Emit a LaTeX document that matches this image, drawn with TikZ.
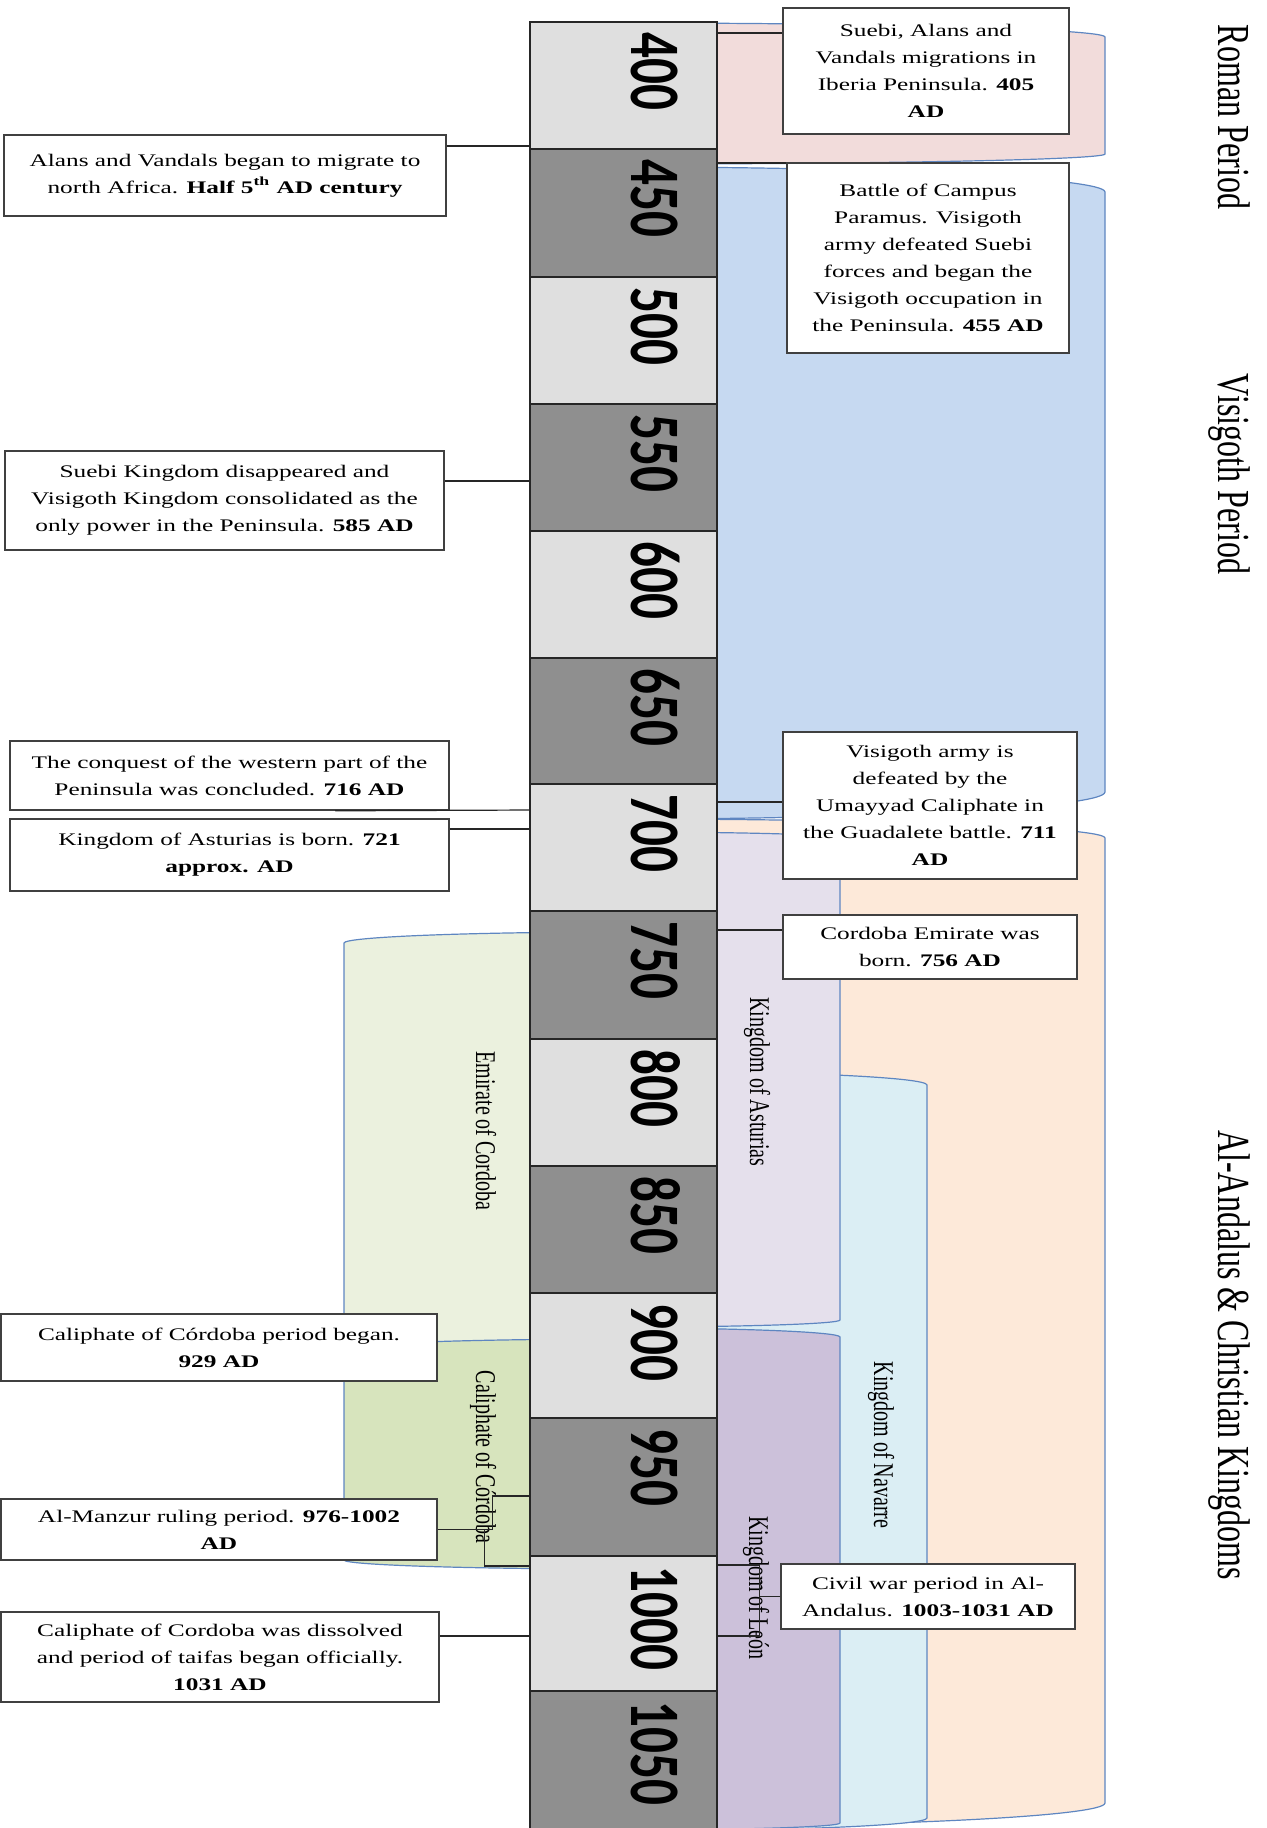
\documentclass[tikz,border=0pt]{standalone}
\usepackage{fontspec}
\setmainfont{Liberation Serif}
\newfontfamily\boxfont[FakeStretch=1.43]{Liberation Serif}
\newfontfamily\bandfont[FakeStretch=0.7]{Liberation Serif}
\newfontfamily\yearfont[FakeStretch=0.72]{Carlito}
\usetikzlibrary{calc}

\definecolor{segL}{HTML}{DFDFDF}
\definecolor{segD}{HTML}{8F8F8F}
\definecolor{roman}{HTML}{F2DCDB}
\definecolor{visi}{HTML}{C6D9F1}
\definecolor{andal}{HTML}{FDE9D9}
\definecolor{astur}{HTML}{E5E0EC}
\definecolor{leon}{HTML}{CCC1DA}
\definecolor{navar}{HTML}{DBEEF4}
\definecolor{emir}{HTML}{EBF1DE}
\definecolor{calif}{HTML}{D7E4BD}
\definecolor{bandedge}{HTML}{5E86C1}

% half can: centre x, outer x, top y, top drop, bottom y, bottom rise, fill
\newcommand\band[7]{%
  \filldraw[bandline,fill=#7] (#1,#3) .. controls ({#1+0.552*(#2-#1)},#3) and (#2,{#3+0.448*#4}) .. (#2,{#3+#4})
    -- (#2,{#5-#6}) .. controls (#2,{#5-0.448*#6}) and ({#1+0.552*(#2-#1)},#5) .. (#1,#5) -- cycle;}

\begin{document}
\begin{tikzpicture}[x=0.5pt,y=-0.5pt,
  bandline/.style={draw=bandedge,line width=0.6pt},
  seg/.style={draw=black!85,line width=0.6pt,minimum width=93.5pt,inner sep=0pt,outer sep=0pt,anchor=north west},
  yearlbl/.style={rotate=-90,anchor=base west,inner sep=0pt,font=\yearfont\bfseries\fontsize{35.5pt}{36pt}\selectfont},
  event/.style={draw=black!75,line width=0.8pt,fill=white,align=center,inner sep=0pt,font=\boxfont\fontsize{8.85pt}{13.5pt}\selectfont},
  bandlbl/.style={rotate=-90,anchor=base,inner sep=0pt,font=\bandfont\fontsize{14.3pt}{16pt}\selectfont},
  period/.style={rotate=-90,anchor=base,inner sep=0pt,font=\bandfont\fontsize{22.9pt}{24pt}\selectfont},
  conn/.style={draw=black!85,line width=0.6pt}]
  \useasboundingbox (0,0) rectangle (1267,1828);

  \band{623.5}{1105}{23}{14}{164}{10}{roman}
  \band{623.5}{1105}{167}{25}{819}{27}{visi}
  \band{623.5}{1105}{819}{19}{1827}{24}{andal}
  \band{623.5}{927}{1071}{14}{1831}{13}{navar}
  \band{623.5}{840}{832}{6}{1327}{7}{astur}
  \band{623.5}{840}{1328}{9}{1830}{7}{leon}
  \band{623.5}{344}{932}{11}{1345}{8}{emir}
  \band{623.5}{344}{1339}{10}{1569}{9}{calif}

  \foreach \yr/\ta/\tb/\c in {400/22/149/segL,450/149/277/segD,500/277/404/segL,550/404/531/segD,
      600/531/658/segL,650/658/784/segD,700/784/911/segL,750/911/1039/segD,800/1039/1166/segL,
      850/1166/1293/segD,900/1293/1418/segL,950/1418/1556/segD,1000/1556/1691/segL,1050/1691/1840/segD}{
    \node[seg,fill=\c,minimum height={(\tb-\ta)*0.5pt}] (y\yr) at (530,\ta) {};
    \node[yearlbl] (n\yr) at (631,{\ta+10}) {\yr};
  }

  \node[bandlbl] (emirlbl) at (476,1131) {Emirate of Cordoba};
  \node[bandlbl] (califlbl) at (476,1457) {Caliphate of Córdoba};
  \node[bandlbl] (asturlbl) at (750,1082) {Kingdom of Asturias};
  \node[bandlbl] (navarlbl) at (874,1445) {Kingdom of Navarre};
  \node[bandlbl] (leonlbl) at (749,1588) {Kingdom of León};

  \node[period] (romanlbl) at (1218,117) {Roman Period};
  \node[period] (visilbl) at (1218,474) {Visigoth Period};
  \node[period] (andallbl) at (1218,1355) {Al-Andalus \& Christian Kingdoms};

  \node[event,minimum width=221pt,minimum height=40.5pt] (evhalf) at (225,175.5)
    {Alans and Vandals began to migrate to\\north Africa. \textbf{Half 5\textsuperscript{th} AD century}};
  \node[event,minimum width=219.5pt,minimum height=49.5pt] (ev585) at (224.5,500.5)
    {Suebi Kingdom disappeared and\\Visigoth Kingdom consolidated as the\\only power in the Peninsula. \textbf{585 AD}};
  \node[event,minimum width=219.5pt,minimum height=34.5pt] (ev716) at (229.5,775.5)
    {The conquest of the western part of the\\Peninsula was concluded. \textbf{716 AD}};
  \node[event,minimum width=219.5pt,minimum height=36pt] (ev721) at (229.5,855)
    {Kingdom of Asturias is born. \textbf{721}\\\textbf{approx. AD}};
  \node[event,minimum width=218pt,minimum height=33.5pt] (ev929) at (219,1347.5)
    {Caliphate of Córdoba period began.\\\textbf{929 AD}};
  \node[event,minimum width=218pt,minimum height=30.5pt] (ev976) at (219,1529.5)
    {Al-Manzur ruling period. \textbf{976-1002}\\\textbf{AD}};
  \node[event,minimum width=219pt,minimum height=45pt] (ev1031) at (220,1657)
    {Caliphate of Cordoba was dissolved\\and period of taifas began officially.\\\textbf{1031 AD}};
  \node[event,minimum width=143pt,minimum height=63pt] (ev405) at (926,71)
    {Suebi, Alans and\\Vandals migrations in\\Iberia Peninsula. \textbf{405}\\\textbf{AD}};
  \node[event,minimum width=141pt,minimum height=95pt] (ev455) at (928,258)
    {Battle of Campus\\Paramus. Visigoth\\army defeated Suebi\\forces and began the\\Visigoth occupation in\\the Peninsula. \textbf{455 AD}};
  \node[event,minimum width=147pt,minimum height=73.5pt] (ev711) at (930,805.5)
    {Visigoth army is\\defeated by the\\Umayyad Caliphate in\\the Guadalete battle. \textbf{711}\\\textbf{AD}};
  \node[event,minimum width=147pt,minimum height=32pt] (ev756) at (930,947)
    {Cordoba Emirate was\\born. \textbf{756 AD}};
  \node[event,minimum width=147pt,minimum height=32.5pt] (ev1003) at (928,1596.5)
    {Civil war period in Al-\\Andalus. \textbf{1003-1031 AD}};

  \coordinate (t405) at (717,33);
  \coordinate (t455) at (717,163);
  \coordinate (t711) at (717,802);
  \coordinate (t756) at (717,930);
  \coordinate (t1003) at (717,1565);
  \coordinate (t1031r) at (717,1636);
  \coordinate (thalf) at (530,146);
  \coordinate (t585) at (530,481);
  \coordinate (t716) at (530,810);
  \coordinate (t721) at (530,829);
  \coordinate (t976) at (530,1496);
  \coordinate (t1002) at (530,1566);
  \coordinate (t1031) at (530,1636);

  \draw[conn] (t405) -- (t405 -| ev405.west);
  \draw[conn] (t455) -- (t455 -| ev455.west);
  \draw[conn] (t711) -- (t711 -| ev711.west);
  \draw[conn] (t756) -- (t756 -| ev756.west);
  \draw[conn] (ev1003.west) -- ++(-21,0) |- (t1003);
  \draw[conn] (ev1003.west) -- ++(-21,0) |- (t1031r);
  \draw[conn] (evhalf.east |- thalf) -- (thalf);
  \draw[conn] (ev585.east |- t585) -- (t585);
  \draw[conn] ($(ev716.south west)!0.74!(ev716.south east)$) -- (t716);
  \draw[conn] (ev721.east |- t721) -- (t721);
  \draw[conn] (ev976.east) -- ++(55,0) |- (t976);
  \draw[conn] (ev976.east) -- ++(47,0) |- (t1002);
  \draw[conn] (ev1031.east |- t1031) -- (t1031);
\end{tikzpicture}
\end{document}
